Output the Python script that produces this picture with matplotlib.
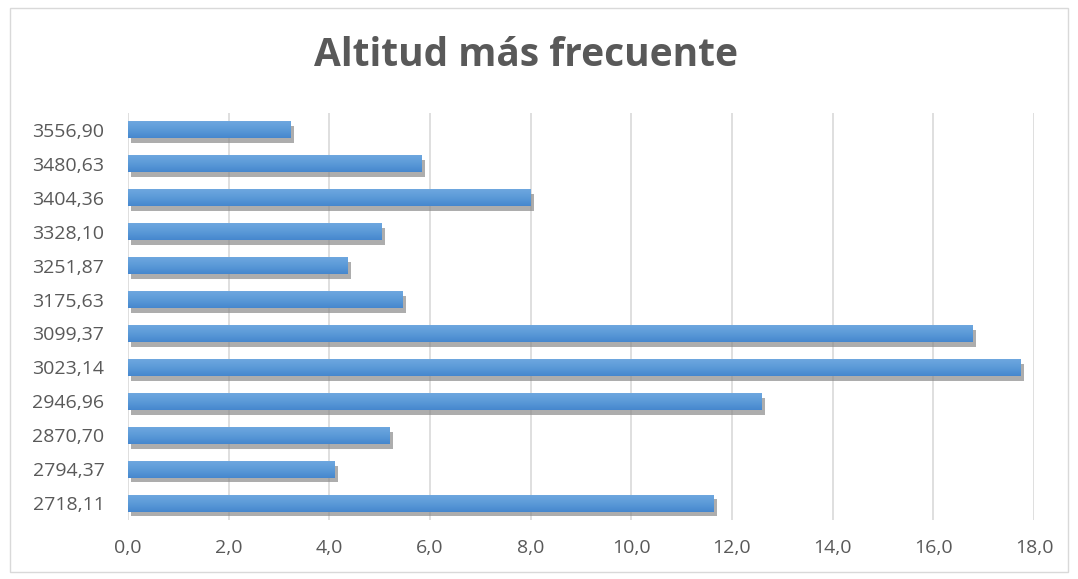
import matplotlib
matplotlib.use("Agg")
import numpy as np
import matplotlib.pyplot as plt
import matplotlib.patheffects as pe
from matplotlib.patches import Rectangle
from matplotlib.colors import LinearSegmentedColormap

categories = ["2718,11", "2794,37", "2870,70", "2946,96", "3023,14", "3099,37",
              "3175,63", "3251,87", "3328,10", "3404,36", "3480,63", "3556,90"]
values = [11.63, 4.10, 5.20, 12.58, 17.73, 16.78, 5.45, 4.37, 5.03, 8.00, 5.84, 3.22]
xticks = [0, 2, 4, 6, 8, 10, 12, 14, 16, 18]
xticklabels = ["0,0", "2,0", "4,0", "6,0", "8,0", "10,0", "12,0", "14,0", "16,0", "18,0"]
title = "Altitud más frecuente"

plt.rcParams['font.family'] = ['Open Sans', 'DejaVu Sans']
fig = plt.figure(figsize=(10.78, 5.79), dpi=100)
fig.patch.set_facecolor('white')
fig.patches.append(Rectangle((10/1078, 1 - 572/579), 1058/1078, 564/579,
                             transform=fig.transFigure, fill=False,
                             edgecolor='#d9d9d9', linewidth=1.0))

ax = fig.add_axes([128/1078, 1 - 520/579, 906/1078, 407/579])
ypos = list(range(len(categories)))
bars = ax.barh(ypos, values, height=0.5, color='#5592d6', zorder=3)
for b in bars:
    b.set_path_effects([pe.SimplePatchShadow(offset=(2.5, -3.5), shadow_rgbFace='#8a8a8a', alpha=0.7),
                        pe.Normal()])

# vertical gradient inside each bar (lighter on top)
cmap = LinearSegmentedColormap.from_list('g', ['#6ea7df', '#5b9ad8', '#4687ce'])
grad = np.linspace(0, 1, 64).reshape(-1, 1)
for b in bars:
    x0, y0 = b.get_x(), b.get_y()
    w, h = b.get_width(), b.get_height()
    im = ax.imshow(grad, cmap=cmap, aspect='auto', extent=(x0, x0 + w, y0, y0 + h),
                   origin='upper', zorder=4)
    im.set_clip_path(b)

ax.set_xlim(0, 18)
ax.set_ylim(-0.5, len(categories) - 0.5)
ax.set_xticks(xticks)
ax.set_xticklabels(xticklabels)
ax.set_yticks(ypos)
ax.set_yticklabels(categories)
ax.tick_params(axis='both', length=0, labelsize=14, colors='#595959')
ax.tick_params(axis='x', pad=14)
ax.tick_params(axis='y', pad=17)
ax.grid(axis='x', color='#d9d9d9', linewidth=1.2, zorder=0)
ax.set_axisbelow(True)
for s in ax.spines.values():
    s.set_visible(False)

fig.text(526/1078, 1 - 55/579, title, ha='center', va='center',
         fontsize=28, fontweight='bold', color='#595959')

fig.savefig("out.png", dpi=100, facecolor='white')
